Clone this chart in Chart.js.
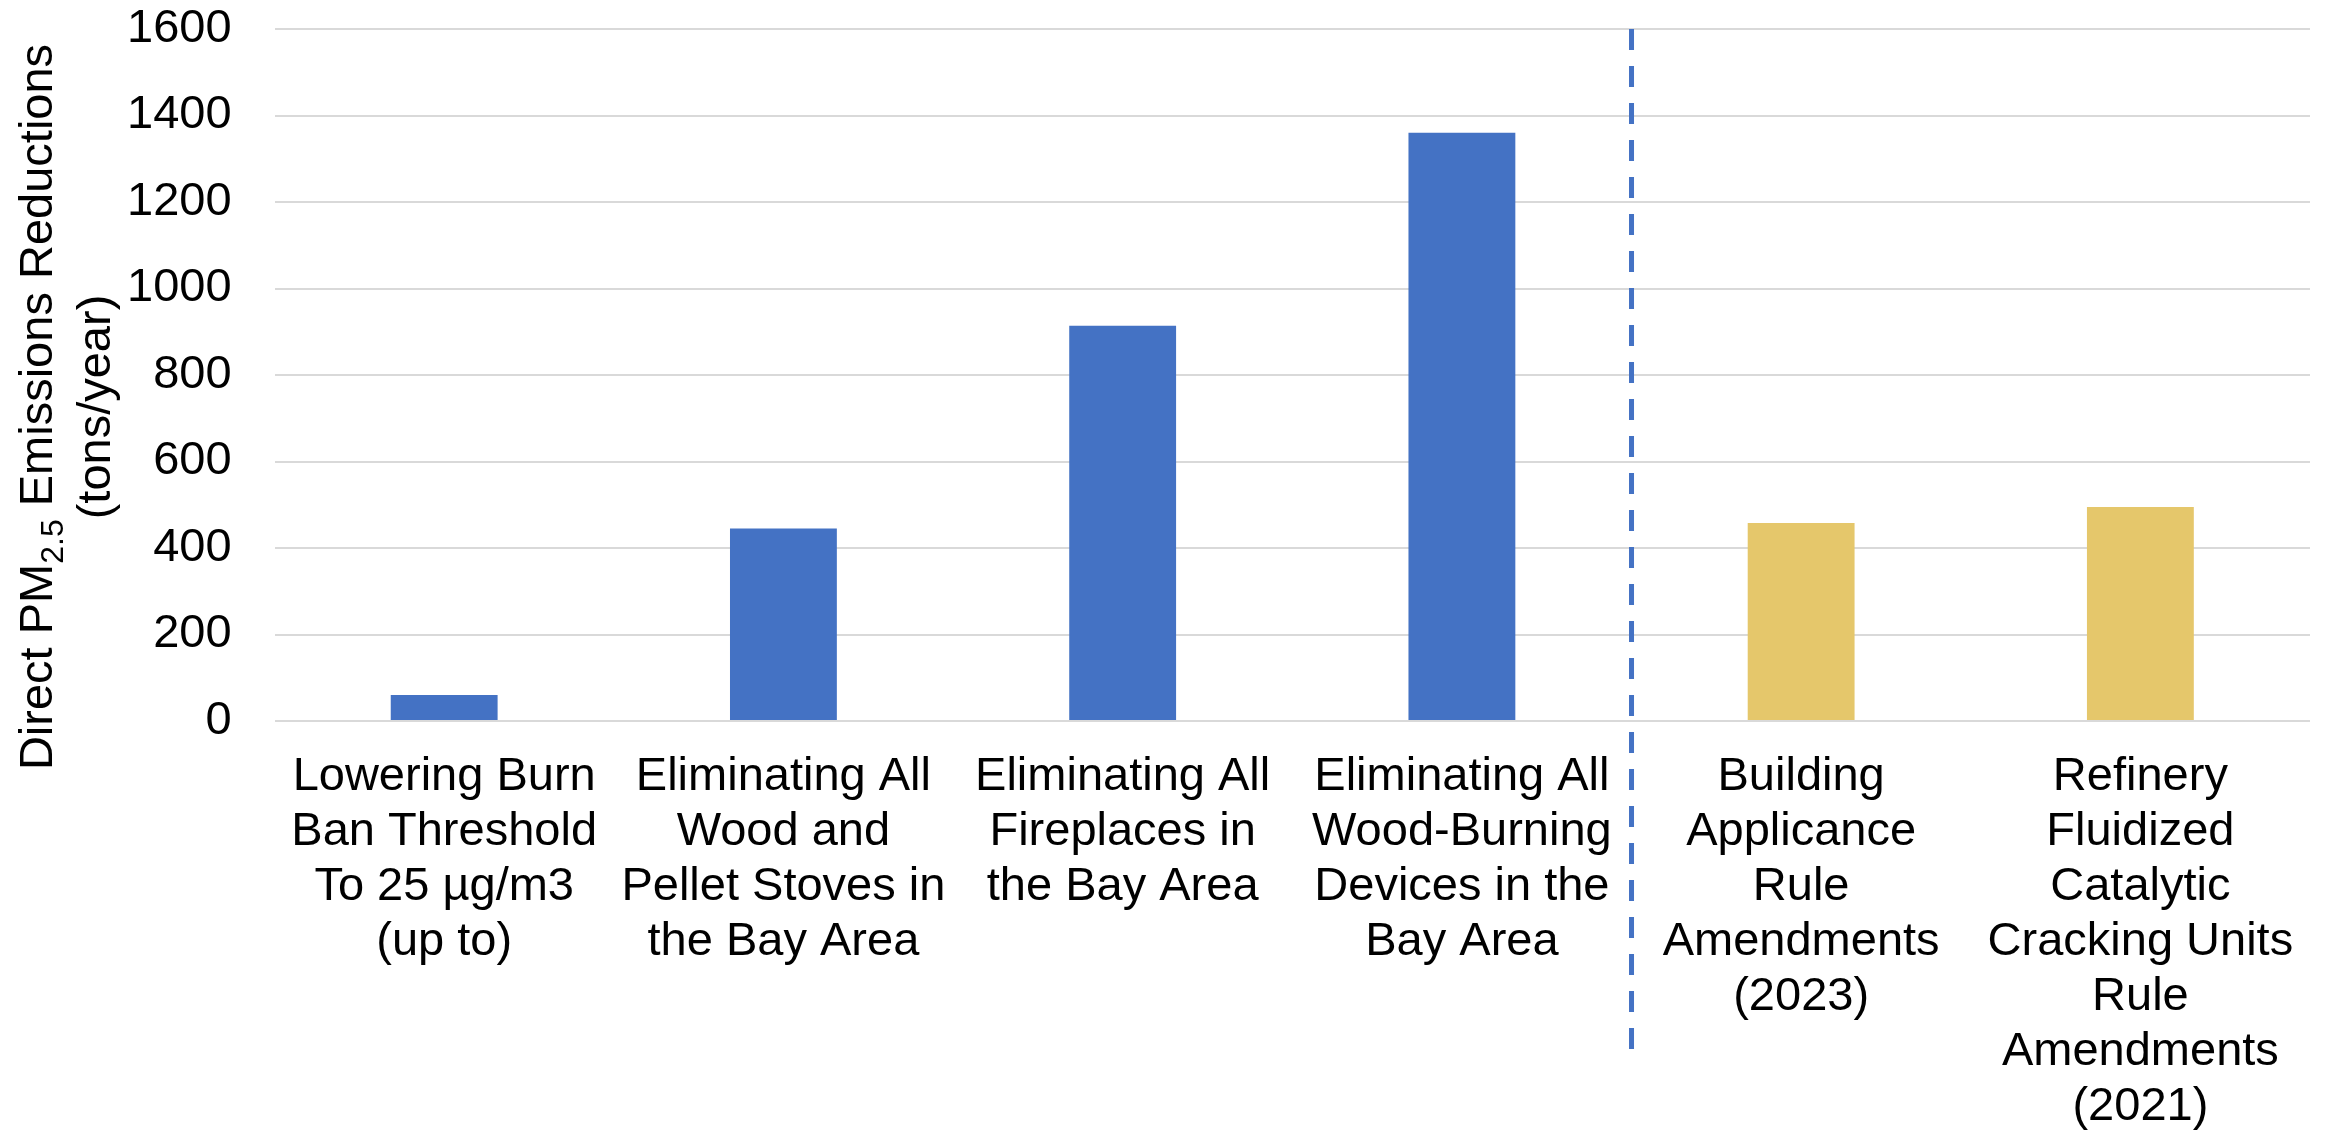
<!DOCTYPE html>
<html>
<head>
<meta charset="utf-8">
<script src="https://cdn.jsdelivr.net/npm/chart.js@4.4.1/dist/chart.umd.min.js"></script>
<style>
    html, body { margin: 0; padding: 0; background: #ffffff; }
    #wrap { width: 2328px; height: 1132px; position: relative; }
</style>
</head>
<body>
<div id="wrap"><canvas id="chart"></canvas></div>
<script>
// Kategorier (x-akse), en linje pr. element
const categories = [
    ["Lowering Burn", "Ban Threshold", "To 25 µg/m3", "(up to)"],
    ["Eliminating All", "Wood and", "Pellet Stoves in", "the Bay Area"],
    ["Eliminating All", "Fireplaces in", "the Bay Area"],
    ["Eliminating All", "Wood-Burning", "Devices in the", "Bay Area"],
    ["Building", "Applicance", "Rule", "Amendments", "(2023)"],
    ["Refinery", "Fluidized", "Catalytic", "Cracking Units", "Rule", "Amendments", "(2021)"]
];

// Direct PM2.5 reductions, tons/year
const reductions = [60, 445, 914, 1360, 458, 495];
const groups = ["wood", "wood", "wood", "wood", "rule", "rule"];

const yTicks = [0, 200, 400, 600, 800, 1000, 1200, 1400, 1600];

const groupColors = { wood: "#4472C4", rule: "#E5C76B" };
const FONT = '"Liberation Sans", Arial, sans-serif';

// Lodret stiplet skillelinje mellem de to grupper
const dividerPlugin = {
    id: "divider",
    afterDatasetsDraw(chart) {
        const { ctx, chartArea, scales } = chart;
        const x = scales.x.getPixelForValue(3.5);
        ctx.save();
        ctx.strokeStyle = "#4472C4";
        ctx.lineWidth = 5;
        ctx.setLineDash([21, 16]);
        ctx.beginPath();
        ctx.moveTo(x, chartArea.top);
        ctx.lineTo(x, chartArea.bottom + 336);
        ctx.stroke();
        ctx.restore();
    }
};

// Y-aksetitel med rigtigt subscript (PM2.5)
const axisTitlePlugin = {
    id: "axisTitle",
    afterDraw(chart) {
        const { ctx, chartArea } = chart;
        const cy = (chartArea.top + chartArea.bottom) / 2 + 32;
        const big = "47px " + FONT;
        const small = "32px " + FONT;
        const parts = [
            { t: "Direct PM", f: big, dy: 0 },
            { t: "2.5", f: small, dy: 11 },
            { t: " Emissions Reductions", f: big, dy: 0 }
        ];
        ctx.save();
        ctx.translate(0, cy);
        ctx.rotate(-Math.PI / 2);
        ctx.fillStyle = "#000";
        ctx.textBaseline = "alphabetic";
        ctx.textAlign = "left";

        let total = 0;
        parts.forEach(p => { ctx.font = p.f; p.w = ctx.measureText(p.t).width; total += p.w; });
        let x = -total / 2;
        parts.forEach(p => {
            ctx.font = p.f;
            ctx.fillText(p.t, x, 52 + p.dy);
            x += p.w;
        });

        ctx.font = big;
        ctx.textAlign = "center";
        ctx.fillText("(tons/year)", 0, 110);
        ctx.restore();
    }
};

const ctx = document.getElementById("chart").getContext("2d");

new Chart(ctx, {
    type: "bar",
    data: {
        labels: categories,
        datasets: [{
            data: reductions,
            backgroundColor: groups.map(g => groupColors[g]),
            borderWidth: 0,
            categoryPercentage: 1.0,
            barPercentage: 0.315
        }]
    },
    options: {
        responsive: true,
        maintainAspectRatio: false,
        animation: false,
        devicePixelRatio: 1,
        layout: {
            padding: { left: 127, right: 18, top: 29, bottom: -32 }
        },
        plugins: {
            legend: { display: false },
            tooltip: { enabled: false }
        },
        scales: {
            x: {
                grid: { display: false, drawTicks: false },
                border: { display: false },
                ticks: {
                    color: "#000",
                    padding: 29,
                    maxRotation: 0,
                    autoSkip: false,
                    font: { family: FONT, size: 47, lineHeight: "55px" }
                }
            },
            y: {
                min: 0,
                max: 1600,
                afterBuildTicks(axis) {
                    axis.ticks = yTicks.map(v => ({ value: v }));
                },
                grid: { color: "#D9D9D9", lineWidth: 2, drawTicks: true, tickLength: 43, tickColor: "rgba(0,0,0,0)" },
                border: { display: false },
                ticks: {
                    color: "#000",
                    padding: 0,
                    font: { family: FONT, size: 47 },
                    callback: v => String(v)
                }
            }
        }
    },
    plugins: [dividerPlugin, axisTitlePlugin]
});
</script>
</body>
</html>
